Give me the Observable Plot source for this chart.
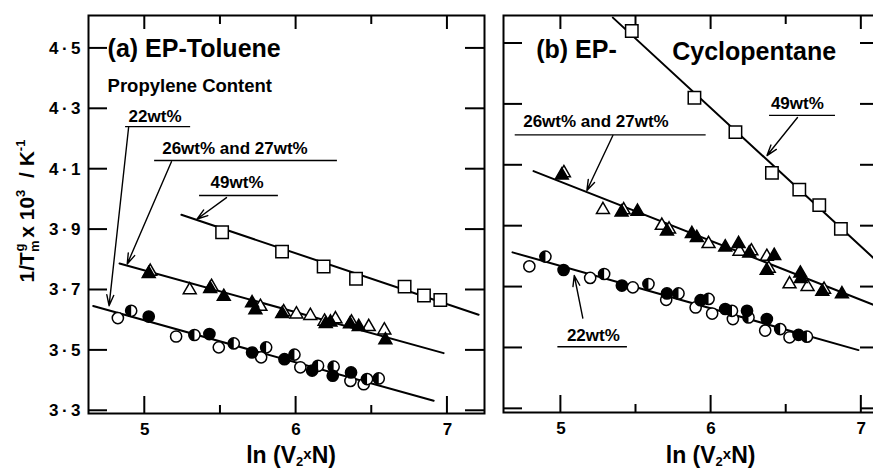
<!DOCTYPE html>
<html>
<head>
<meta charset="utf-8">
<script src="https://cdn.jsdelivr.net/npm/d3@7"></script>
<script src="https://cdn.jsdelivr.net/npm/@observablehq/plot@0.6"></script>
<style>
  body { margin: 0; background: #fff; }
  #chart { position: relative; width: 873px; height: 469px; overflow: hidden; background: #fff; }
  #chart svg { position: absolute; top: 0; }
</style>
</head>
<body>
<div id="chart"></div>
<script>
// Reciprocal melting temperature vs ln(V2 x N) for EP copolymers
// Panel (a): EP–toluene
const a49 = [[5.511,3.891],[5.907,3.827],[6.182,3.778],[6.396,3.737],[6.717,3.711],[6.845,3.682],[6.953,3.667]];
const a26 = [[5.036,3.761],[5.297,3.700],[5.441,3.711],[5.764,3.645],[5.918,3.627],[6.002,3.620],[6.094,3.615],[6.188,3.596],[6.260,3.604],[6.366,3.593],[6.480,3.578],[6.583,3.567]];
const a27 = [[5.026,3.754],[5.432,3.704],[5.522,3.678],[5.709,3.657],[5.731,3.634],[5.908,3.621],[6.196,3.588],[6.227,3.593],[6.356,3.587],[6.414,3.578],[6.590,3.534]];
const a22open = [[4.822,3.607],[5.207,3.546],[5.489,3.510],[5.769,3.477],[6.028,3.444],[6.359,3.399],[6.447,3.388]];
const a22half = [[4.910,3.631],[5.328,3.551],[5.588,3.523],[5.802,3.510],[5.989,3.486],[6.145,3.449],[6.248,3.446],[6.469,3.405],[6.546,3.407]];
const a22filled = [[5.026,3.612],[5.427,3.554],[5.709,3.493],[5.923,3.471],[6.106,3.433],[6.242,3.416],[6.363,3.427]];
const aFit49 = [[5.242,3.949],[7.206,3.618]];
const aFit26 = [[4.833,3.788],[6.975,3.491]];
const aFit22 = [[4.659,3.647],[6.909,3.333]];

// Panel (b): EP–cyclopentane
const b49 = [[5.472,4.541],[5.889,4.322],[6.162,4.209],[6.405,4.075],[6.587,4.020],[6.720,3.969],[6.864,3.891]];
const b26 = [[5.020,4.075],[5.280,3.954],[5.418,3.953],[5.672,3.902],[5.720,3.890],[5.983,3.842],[6.189,3.817],[6.268,3.818],[6.371,3.800],[6.384,3.761],[6.522,3.710],[6.642,3.701],[6.752,3.692]];
const b27 = [[5.006,4.067],[5.404,3.946],[5.510,3.948],[5.706,3.883],[5.872,3.875],[5.905,3.862],[6.094,3.831],[6.183,3.842],[6.254,3.811],[6.420,3.803],[6.370,3.754],[6.594,3.745],[6.598,3.727],[6.740,3.685],[6.871,3.677]];
const b22open = [[4.790,3.768],[5.195,3.730],[5.479,3.699],[5.701,3.658],[5.897,3.633],[6.007,3.613],[6.145,3.595],[6.360,3.557],[6.522,3.535]];
const b22half = [[4.897,3.800],[5.288,3.743],[5.583,3.710],[5.783,3.679],[5.983,3.661],[6.139,3.622],[6.249,3.600],[6.460,3.562],[6.638,3.537]];
const b22filled = [[5.018,3.756],[5.406,3.705],[5.706,3.679],[5.930,3.657],[6.094,3.628],[6.239,3.622],[6.371,3.595],[6.582,3.543]];
const bFit49 = [[5.346,4.585],[7.095,3.789]];
const bFit26 = [[4.818,4.081],[7.095,3.639]];
const bFit22 = [[4.678,3.814],[6.981,3.493]];

// Axis ticks
const xMajor = [5, 6, 7];
const xMinor = [5.5, 6.5];
const yTicks = [3.3, 3.5, 3.7, 3.9, 4.1, 4.3, 4.5];

const FONT = '"Liberation Sans", Arial, Helvetica, sans-serif';
const fmtY = d => d.toFixed(1).replace(".", "\u2009·\u2009");
const X = d => d[0], Y = d => d[1];

// Left-half disc, used to shade half-filled circles
const halfDisc = {
  draw(ctx, size) {
    const r = Math.sqrt(size / Math.PI);
    ctx.moveTo(0, -r);
    ctx.arc(0, 0, r, -Math.PI / 2, Math.PI / 2, true);
    ctx.closePath();
  }
};

function seriesMarks(fits, sq, open, filled, cOpen, cHalf, cFilled) {
  const dotStyle = {x: X, y: Y, strokeWidth: 1.5};
  return [
    ...fits.map(f => Plot.line(f, {x: X, y: Y, stroke: "black", strokeWidth: 2})),
    Plot.dot(sq, {...dotStyle, symbol: "square", r: 7, fill: "white", stroke: "black"}),
    Plot.dot(open, {...dotStyle, symbol: "triangle", r: 4.8, fill: "white", stroke: "black"}),
    Plot.dot(filled, {...dotStyle, symbol: "triangle", r: 4.8, fill: "black", stroke: "black"}),
    Plot.dot(cOpen, {...dotStyle, r: 5.6, fill: "white", stroke: "black"}),
    Plot.dot(cHalf, {...dotStyle, r: 5.6, fill: "white", stroke: "black"}),
    Plot.dot(cHalf, {x: X, y: Y, symbol: halfDisc, r: 5.6, fill: "black"}),
    Plot.dot(cFilled, {...dotStyle, r: 5.6, fill: "black", stroke: "black"})
  ];
}

function axisMarks(withYLabels) {
  const marks = [
    Plot.frame({stroke: "black", strokeWidth: 2}),
    Plot.axisX(xMajor, {tickSize: 0, tickPadding: 9, tickFormat: d => String(d), fontSize: 17, fontWeight: "bold", label: null})
  ];
  if (withYLabels) {
    marks.push(Plot.axisY(yTicks, {tickSize: 0, tickPadding: 8, tickFormat: fmtY, fontSize: 17, fontWeight: "bold", label: null}));
  }
  return marks;
}

const note = (txt, x, y, size) =>
  Plot.text([txt], {x, y, text: d => d, textAnchor: "start", lineAnchor: "bottom", fontSize: size, fontWeight: "bold", fill: "black"});
const underline = (y, x1, x2) => Plot.ruleY([y], {x1, x2, stroke: "black", strokeWidth: 1.4});
const pointer = (x1, y1, x2, y2) =>
  Plot.arrow([0], {x1, y1, x2, y2, stroke: "black", strokeWidth: 1.4, headLength: 12, headAngle: 36});

// ---- Panel (a)
const H = 469, MT = 15;
const plotA = Plot.plot({
  width: 490, height: H,
  marginLeft: 88, marginRight: 6, marginTop: MT, marginBottom: 56,
  x: {domain: [4.628, 7.245]},
  y: {domain: [3.291, 4.609]},
  style: {fontFamily: FONT, background: "transparent", color: "black", overflow: "visible"},
  marks: [
    ...axisMarks(true),
    ...seriesMarks([aFit49, aFit26, aFit22], a49, a26, a27, a22open, a22half, a22filled),
    note("(a) EP-Toluene", 4.754, 4.470, 25),
    note("Propylene Content", 4.754, 4.357, 18.5),
    note("22wt%", 4.893, 4.255, 17),
    underline(4.241, 4.873, 5.303),
    pointer(4.893, 4.238, 4.764, 3.648),
    note("26wt% and 27wt%", 5.115, 4.152, 17),
    underline(4.129, 5.065, 6.273),
    pointer(5.176, 4.125, 4.884, 3.786),
    note("49wt%", 5.435, 4.039, 17),
    underline(4.013, 5.362, 5.883),
    pointer(5.540, 4.006, 5.346, 3.935)
  ]
});
plotA.style.left = "0px";

// ---- Panel (b)
const plotB = Plot.plot({
  width: 390, height: H,
  marginLeft: 13, marginRight: 4, marginTop: MT, marginBottom: 57,
  x: {domain: [4.618, 7.101]},
  y: {domain: [3.288, 4.592], axis: null},
  style: {fontFamily: FONT, background: "transparent", color: "black", overflow: "visible"},
  marks: [
    ...axisMarks(false),
    ...seriesMarks([bFit49, bFit26, bFit22], b49, b26, b27, b22open, b22half, b22filled),
    note("(b) EP-", 4.836, 4.451, 25),
    note("Cyclopentane", 5.741, 4.445, 25),
    note("26wt% and 27wt%", 4.749, 4.225, 17),
    underline(4.200, 4.696, 5.967),
    pointer(5.346, 4.198, 5.173, 4.017),
    note("49wt%", 6.398, 4.286, 17),
    underline(4.264, 6.389, 6.828),
    pointer(6.575, 4.257, 6.372, 4.132),
    note("22wt%", 5.040, 3.524, 17),
    underline(3.504, 4.980, 5.443),
    pointer(5.146, 3.598, 5.089, 3.738)
  ]
});
plotB.style.left = "490px";

const chart = document.getElementById("chart");
chart.append(plotA, plotB);

// Inward ticks on all four sides of both panels, placed with each panel's own scales,
// drawn in an overlay layer above the two panels
const overlay = d3.select(chart).append("svg")
  .attr("width", 873).attr("height", H)
  .style("left", "0px").style("pointer-events", "none");
function inwardTicks(svg, offsetX, rightLen) {
  const sx = svg.scale("x"), sy = svg.scale("y");
  const [left, right] = sx.range.map(v => v + offsetX);
  const [bottom, top] = sy.range;
  const segs = [];
  xMajor.forEach(v => { const x = sx.apply(v) + offsetX; segs.push([x, bottom, x, bottom - 17], [x, top, x, top + 14]); });
  xMinor.forEach(v => { const x = sx.apply(v) + offsetX; segs.push([x, bottom, x, bottom - 8], [x, top, x, top + 9]); });
  yTicks.forEach(v => { const y = sy.apply(v); segs.push([left, y, left + 19, y], [right, y, right - rightLen, y]); });
  overlay.append("g")
    .attr("stroke", "black").attr("stroke-width", 2)
    .selectAll("line").data(segs).join("line")
    .attr("x1", d => d[0]).attr("y1", d => d[1]).attr("x2", d => d[2]).attr("y2", d => d[3]);
}
inwardTicks(plotA, 0, 19);
inwardTicks(plotB, 490, 16);

// x-axis title with subscript and raised multiplication sign
function xTitle(svg, cx) {
  const t = d3.select(svg).append("text")
    .attr("x", cx).attr("y", 463).attr("text-anchor", "middle")
    .attr("font-family", FONT).attr("font-size", 23).attr("font-weight", "bold").attr("fill", "black");
  t.append("tspan").text("ln (V");
  t.append("tspan").attr("font-size", 13).attr("dy", 3).text("2");
  t.append("tspan").attr("font-size", 15).attr("dy", -7).text("x");
  t.append("tspan").attr("dy", 4).text("N)");
}
xTitle(plotA, plotA.scale("x").apply(5.97));
xTitle(plotB, plotB.scale("x").apply(6.0));

// y-axis title: 1/T_m^g x 10^3 / K^-1
const yl = d3.select(plotA).append("text")
  .attr("transform", "translate(34,211) rotate(-90)").attr("text-anchor", "middle")
  .attr("font-family", FONT).attr("font-size", 21).attr("font-weight", "bold").attr("fill", "black");
yl.append("tspan").text("1/T");
yl.append("tspan").attr("font-size", 13).attr("dy", 5).text("m");
yl.append("tspan").attr("font-size", 13).attr("dx", -11).attr("dy", -15).text("g");
yl.append("tspan").attr("dy", 10).text(" x 10");
yl.append("tspan").attr("font-size", 13).attr("dy", -9).text("3");
yl.append("tspan").attr("dy", 9).text("  / K");
yl.append("tspan").attr("font-size", 13).attr("dy", -9).text("-1");
</script>
</body>
</html>
